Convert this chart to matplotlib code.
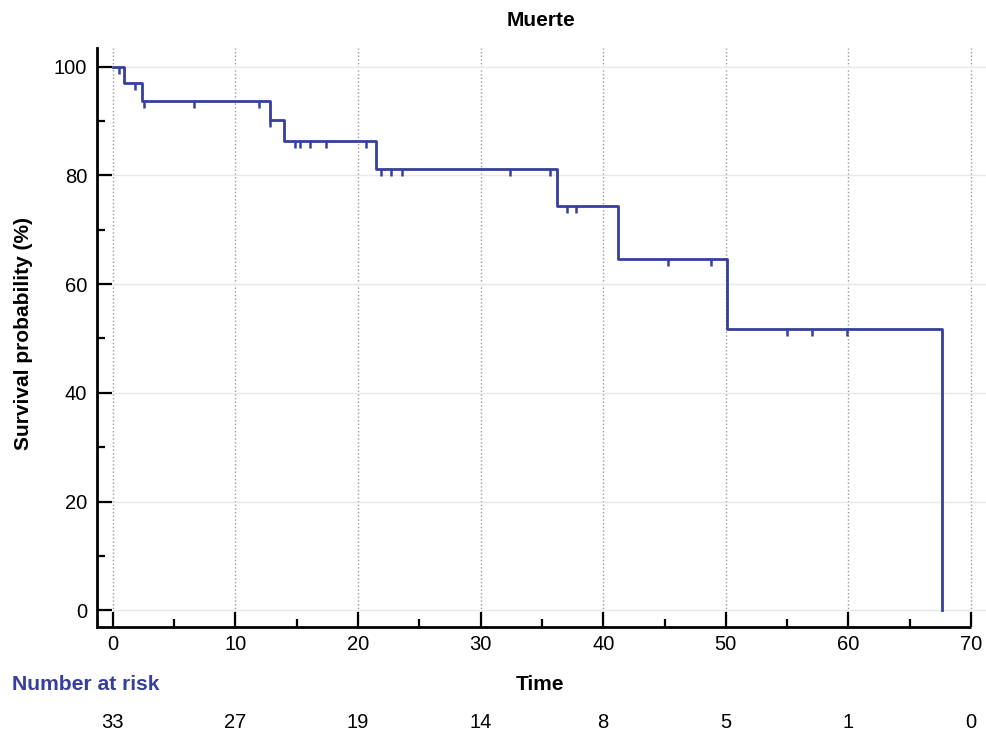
import matplotlib
matplotlib.use("Agg")
import matplotlib.pyplot as plt
import numpy as np

plt.rcParams['font.family'] = ['Liberation Sans', 'DejaVu Sans']

# Kaplan-Meier steps (time, survival % after the event)
step_times = [0, 0.9, 2.4, 12.8, 14.0, 21.5, 36.2, 41.2, 50.1, 67.65]
surv = [100, 97.0, 93.6, 90.1, 86.3, 81.2, 74.3, 64.6, 51.7, 0]

# censored observations
censor_times = [0.5, 1.85, 2.55, 6.6, 11.9, 12.85, 14.85, 15.25, 16.1, 17.4,
                20.65, 21.9, 22.7, 23.6, 32.4, 35.65, 37.05, 37.8, 45.3,
                48.8, 55.0, 57.0, 59.9]

risk_times = [0, 10, 20, 30, 40, 50, 60, 70]
at_risk = [33, 27, 19, 14, 8, 5, 1, 0]

blue = '#373f9c'

fig = plt.figure(figsize=(9.87, 7.31), dpi=100)
ax = fig.add_axes([0.0983, 0.1423, 0.9017, 0.792])

ax.step(step_times, surv, where='post', color=blue, lw=2.0, zorder=3)

# censor marks hanging below the curve
idx = np.searchsorted(step_times, censor_times, side='right') - 1
cy = np.array(surv)[idx]
ax.vlines(censor_times, cy - 1.3, cy, color=blue, lw=1.8, zorder=3)

ax.set_xlim(-1.28, 71.3)
ax.set_ylim(-3.05, 103.4)
ax.set_xticks(np.arange(0, 71, 10))
ax.set_xticks(np.arange(5, 70, 10), minor=True)
ax.set_yticks(np.arange(0, 101, 20))
ax.set_yticks(np.arange(10, 100, 20), minor=True)

ax.spines['top'].set_visible(False)
ax.spines['right'].set_visible(False)
ax.spines['left'].set_linewidth(2)
ax.spines['bottom'].set_linewidth(2)
ax.spines['bottom'].set_bounds(-1.28, 70)
ax.spines['bottom'].set_capstyle('butt')

ax.tick_params(which='major', direction='in', length=11, width=1.6, labelsize=14.5)
ax.tick_params(which='minor', direction='in', length=5.5, width=1.6)
ax.tick_params(axis='y', pad=7)
ax.tick_params(axis='x', pad=6)

ax.grid(axis='x', which='major', color='#9a9a9a', linestyle=':', lw=1)
ax.grid(axis='y', which='major', color='#e8e8e8', linestyle='-', lw=1)
ax.set_axisbelow(True)

fig.text(541 / 987, 1 - 20 / 731, 'Muerte', ha='center', va='center',
         fontsize=15, fontweight='bold')
fig.text(24 / 987, 1 - 334 / 731, 'Survival probability (%)', rotation=90,
         ha='center', va='center', fontsize=15, fontweight='bold')
fig.text(540 / 987, 1 - 684 / 731, 'Time', ha='center', va='center',
         fontsize=15, fontweight='bold')
fig.text(12 / 987, 1 - 684 / 731, 'Number at risk', ha='left', va='center',
         fontsize=15.2, fontweight='bold', color=blue)

# number-at-risk row under the time axis
row = matplotlib.transforms.blended_transform_factory(ax.transData, fig.transFigure)
for t, n in zip(risk_times, at_risk):
    ax.text(t, 1 - 722 / 731, str(n), transform=row, ha='center',
            va='center', fontsize=14.5)

fig.savefig('out.png', dpi=100)
